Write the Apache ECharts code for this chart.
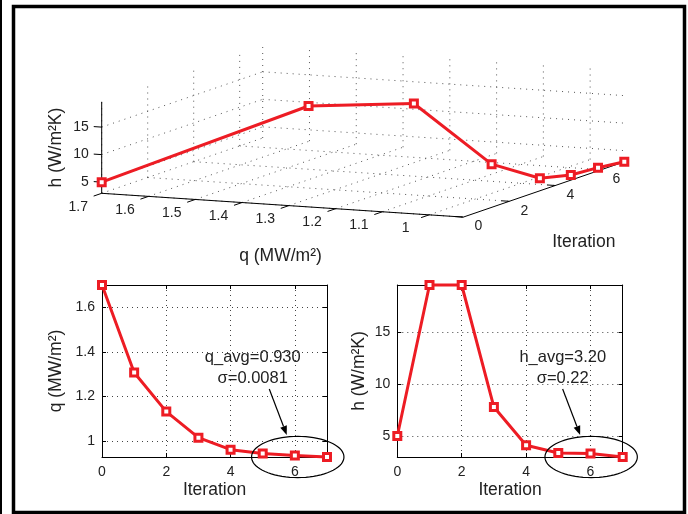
<!DOCTYPE html>
<html>
<head>
<meta charset="utf-8">
<script src="https://cdn.jsdelivr.net/npm/echarts@6/dist/echarts.min.js"></script>
<style>
html, body { margin: 0; padding: 0; background: #fff; }
#main { width: 688px; height: 514px; }
</style>
</head>
<body>
<div id="main"></div>
<script>
// values
const iterations = [0, 1, 2, 3, 4, 5, 6, 7];
const qValues = [1.70, 1.307, 1.131, 1.014, 0.96, 0.943, 0.934, 0.927];
const hValues = [5.0, 19.6, 19.6, 7.8, 4.1, 3.35, 3.3, 2.97];

// ticks
const qTicks3d = [1.7, 1.6, 1.5, 1.4, 1.3, 1.2, 1.1, 1.0];
const qTickLabels3d = ['1.7', '1.6', '1.5', '1.4', '1.3', '1.2', '1.1', '1'];
const iterTicks = [0, 2, 4, 6];
const hTicks = [5, 10, 15];
const qTicks2d = [1, 1.2, 1.4, 1.6];

// annotation texts
const qNotes = ['q_avg=0.930', 'σ=0.0081'];
const hNotes = ['h_avg=3.20', 'σ=0.22'];

const FONT = '"Liberation Sans", Arial, Helvetica, sans-serif';
const RED = '#ed1c24';
const NAME_SIZE = 17.5;

const qMin = Math.min(...qValues), qMax = Math.max(...qValues);
const hMin = Math.min(...hValues), hMax = Math.max(...hValues);
const itMax = 7;

// 3D box on screen (orthographic view): origin corner and the pixel vector of each full axis range
const box = { origin: [101.7, 193.3], q: [361.6, 23.8], it: [161, -55.3], h: [0, -91.5] };
function project(q, it, h) {
    var a = (qMax - q) / (qMax - qMin), b = it / itMax, c = (h - hMin) / (hMax - hMin);
    return [box.origin[0] + a * box.q[0] + b * box.it[0] + c * box.h[0],
            box.origin[1] + a * box.q[1] + b * box.it[1] + c * box.h[1]];
}

// back-wall grid lines
var gridSegs = [];
qTicks3d.forEach(function (q) {
    gridSegs.push([q, 0, hMin, q, itMax, hMin]);
    gridSegs.push([q, itMax, hMin, q, itMax, hMax]);
});
iterTicks.forEach(function (it) {
    gridSegs.push([qMax, it, hMin, qMin, it, hMin]);
    gridSegs.push([qMax, it, hMin, qMax, it, hMax]);
});
hTicks.forEach(function (h) {
    gridSegs.push([qMax, 0, h, qMax, itMax, h]);
    gridSegs.push([qMax, itMax, h, qMin, itMax, h]);
});

// axis lines + tick marks
var axisSegs = [
    [qMax, 0, hMin, qMax, 0, hMax],
    [qMax, 0, hMin, qMin, 0, hMin],
    [qMin, 0, hMin, qMin, itMax, hMin]
];
qTicks3d.forEach(function (q) { axisSegs.push([q, 0, hMin, q, -0.35, hMin]); });
iterTicks.forEach(function (it) { axisSegs.push([qMin, it, hMin, qMin + 0.017, it, hMin]); });
hTicks.forEach(function (h) { axisSegs.push([qMax, 0, h, qMax + 0.017, 0, h]); });

// 3D tick labels
var labels3d = [];
qTicks3d.forEach(function (q, i) { labels3d.push({ p: [q, 0, hMin], text: qTickLabels3d[i], dx: -23.5, dy: 13.5, align: 'center' }); });
iterTicks.forEach(function (it) { labels3d.push({ p: [qMin, it, hMin], text: String(it), dx: 15, dy: 9.5, align: 'center' }); });
hTicks.forEach(function (h) { labels3d.push({ p: [qMax, 0, h], text: String(h), dx: -13, dy: 0, align: 'right' }); });

function segRender(segs, style) {
    return function (params, api) {
        var s = segs[params.dataIndex];
        var a = project(s[0], s[1], s[2]), b = project(s[3], s[4], s[5]);
        return { type: 'line', shape: { x1: a[0], y1: a[1], x2: b[0], y2: b[1] }, style: style };
    };
}

var chart = echarts.init(document.getElementById('main'));

function xAxisCfg(grid, pos, main) {
    return {
        type: 'value', gridIndex: grid, position: pos, min: 0, max: itMax,
        axisLine: { show: true, onZero: false, lineStyle: { color: '#000', width: 1 } },
        axisTick: { show: true, inside: true, length: 4, customValues: iterTicks, lineStyle: { color: '#000' } },
        axisLabel: { show: main, customValues: iterTicks, margin: 8, color: '#222', fontFamily: FONT, fontSize: 14 },
        splitLine: { show: main, lineStyle: { color: '#444', type: [1, 4], width: 1 } },
        name: main ? 'Iteration' : '', nameLocation: 'middle', nameGap: 24,
        nameTextStyle: { color: '#222', fontFamily: FONT, fontSize: NAME_SIZE }
    };
}
function yAxisCfg(grid, pos, main, lo, hi, ticks, name, gap) {
    return {
        type: 'value', gridIndex: grid, position: pos, min: lo, max: hi,
        axisLine: { show: true, onZero: false, lineStyle: { color: '#000', width: 1 } },
        axisTick: { show: true, inside: true, length: 4, customValues: ticks, lineStyle: { color: '#000' } },
        axisLabel: { show: main, customValues: ticks, margin: 7, color: '#222', fontFamily: FONT, fontSize: 14 },
        splitLine: { show: main, lineStyle: { color: '#444', type: [1, 4], width: 1 } },
        name: main ? name : '', nameLocation: 'middle', nameGap: gap,
        nameTextStyle: { color: '#222', fontFamily: FONT, fontSize: NAME_SIZE }
    };
}

var lineSeries = function (xi, yi, values) {
    return {
        type: 'line', xAxisIndex: xi, yAxisIndex: yi, clip: false,
        data: iterations.map(function (it, i) { return [it, values[i]]; }),
        symbol: 'rect', symbolSize: 7,
        lineStyle: { color: RED, width: 3 },
        itemStyle: { color: '#fff', borderColor: RED, borderWidth: 3 },
        z: 5
    };
};

chart.setOption({
    animation: false,
    backgroundColor: '#fff',
    grid: [
        { left: 102, top: 285, width: 225, height: 172, outerBoundsMode: 'none' },
        { left: 397.3, top: 285, width: 225.4, height: 172, outerBoundsMode: 'none' }
    ],
    xAxis: [xAxisCfg(0, 'bottom', true), xAxisCfg(1, 'bottom', true), xAxisCfg(0, 'top', false), xAxisCfg(1, 'top', false)],
    yAxis: [
        yAxisCfg(0, 'left', true, qMin, qMax, qTicks2d, 'q (MW/m²)', 37),
        yAxisCfg(1, 'left', true, hMin, hMax, hTicks, 'h (W/m²K)', 29),
        yAxisCfg(0, 'right', false, qMin, qMax, qTicks2d, '', 0),
        yAxisCfg(1, 'right', false, hMin, hMax, hTicks, '', 0)
    ],
    series: [
        lineSeries(0, 0, qValues),
        lineSeries(1, 1, hValues),
        {
            type: 'custom', coordinateSystem: 'none', silent: true, z: 1,
            data: gridSegs,
            renderItem: segRender(gridSegs, { stroke: '#555', lineWidth: 1, lineDash: [1, 5] })
        },
        {
            type: 'custom', coordinateSystem: 'none', silent: true, z: 2,
            data: axisSegs,
            renderItem: segRender(axisSegs, { stroke: '#000', lineWidth: 1 })
        },
        {
            type: 'custom', coordinateSystem: 'none', silent: true, z: 2,
            data: labels3d.map(function (l) { return l.p; }),
            renderItem: function (params, api) {
                var l = labels3d[params.dataIndex];
                var p = project(l.p[0], l.p[1], l.p[2]);
                return { type: 'text', x: p[0] + l.dx, y: p[1] + l.dy,
                    style: { text: l.text, fill: '#222', font: '14px ' + FONT, align: l.align, verticalAlign: 'middle' } };
            }
        },
        {
            // the 3D curve
            type: 'custom', coordinateSystem: 'none', silent: true, z: 5,
            data: iterations.map(function (it, i) { return [qValues[i], it, hValues[i]]; }),
            renderItem: function (params, api) {
                var i = params.dataIndex;
                var p = project(api.value(0), api.value(1), api.value(2));
                var children = [];
                if (i > 0) {
                    var pr = project(qValues[i - 1], iterations[i - 1], hValues[i - 1]);
                    children.push({ type: 'line', z2: 1, shape: { x1: pr[0], y1: pr[1], x2: p[0], y2: p[1] },
                        style: { stroke: RED, lineWidth: 3, lineCap: 'round' } });
                }
                children.push({ type: 'rect', z2: 10, shape: { x: p[0] - 3.5, y: p[1] - 3.5, width: 7, height: 7 },
                    style: { fill: '#fff', stroke: RED, lineWidth: 3 } });
                return { type: 'group', children: children };
            }
        }
    ]
});

// axis names of the 3D plot, frame and the annotations
var hMid = project(qMax, 0, (hMin + hMax) / 2);
var qMid = project((qMin + qMax) / 2, 0, hMin);
var itMid = project(qMin, itMax / 2, hMin);

function ellipsePts(cx, cy, rx, ry) {
    var pts = [];
    for (var k = 0; k <= 72; k++) {
        var t = k / 72 * Math.PI * 2;
        pts.push([cx + rx * Math.cos(t), cy + ry * Math.sin(t)]);
    }
    return pts;
}
function note(gridIndex, anchor, texts, textDx) {
    var c = chart.convertToPixel({ gridIndex: gridIndex }, anchor);
    var sx = c[0] - 28.5, sy = c[1] - 68, ex = c[0] - 11, ey = c[1] - 22;
    var ang = Math.atan2(ey - sy, ex - sx);
    var hl = 9, hw = 3.5;
    var bx = ex - hl * Math.cos(ang), by = ey - hl * Math.sin(ang);
    return [
        { type: 'polyline', shape: { points: ellipsePts(c[0], c[1], 46.2, 20.6) }, style: { stroke: '#000', fill: null, lineWidth: 1.2 }, z: 10 },
        { type: 'line', shape: { x1: sx, y1: sy, x2: bx, y2: by }, style: { stroke: '#000', lineWidth: 1.2 }, z: 10 },
        { type: 'polygon', shape: { points: [[ex, ey], [bx - hw * Math.sin(ang), by + hw * Math.cos(ang)], [bx + hw * Math.sin(ang), by - hw * Math.cos(ang)]] }, style: { fill: '#000' }, z: 10 },
        { type: 'text', x: c[0] + textDx, y: c[1] - 100, style: { text: texts[0], fill: '#222', font: '16.5px ' + FONT, align: 'center', verticalAlign: 'middle' }, z: 10 },
        { type: 'text', x: c[0] + textDx, y: c[1] - 79, style: { text: texts[1], fill: '#222', font: '16.5px ' + FONT, align: 'center', verticalAlign: 'middle' }, z: 10 }
    ];
}

var elements = [
    { type: 'line', shape: { x1: 1, y1: 0, x2: 1, y2: 514 }, style: { stroke: '#000', lineWidth: 2 } },
    { type: 'rect', shape: { x: 13.5, y: 6.5, width: 671, height: 506 }, style: { stroke: '#000', fill: null, lineWidth: 3.5 } },
    { type: 'text', x: hMid[0] - 46, y: hMid[1], rotation: Math.PI / 2,
      style: { text: 'h (W/m²K)', fill: '#222', font: NAME_SIZE + 'px ' + FONT, align: 'center', verticalAlign: 'middle' } },
    { type: 'text', x: qMid[0] - 2, y: qMid[1] + 51,
      style: { text: 'q (MW/m²)', fill: '#222', font: NAME_SIZE + 'px ' + FONT, align: 'center', verticalAlign: 'middle' } },
    { type: 'text', x: itMid[0] + 40, y: itMid[1] + 53,
      style: { text: 'Iteration', fill: '#222', font: NAME_SIZE + 'px ' + FONT, align: 'center', verticalAlign: 'middle' } }
].concat(note(0, [6.09, qMin], qNotes, -45), note(1, [6.02, hMin], hNotes, -28.4));

chart.setOption({ graphic: { elements: elements } });
</script>
</body>
</html>
